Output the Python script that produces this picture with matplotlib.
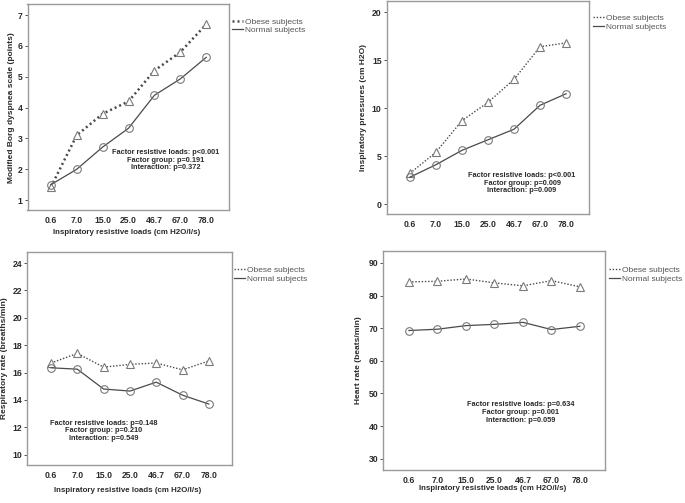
import numpy as np
import matplotlib.pyplot as plt
from matplotlib.lines import Line2D

plt.rcParams['font.family'] = ['Liberation Sans', 'DejaVu Sans']

loads = ['0.6', '7.0', '15.0', '25.0', '46.7', '67.0', '78.0']

# dyspnea (Borg)
borg_obese = [1.42, 3.1, 3.8, 4.2, 5.2, 5.8, 6.7]
borg_normal = [1.5, 2.0, 2.72, 3.33, 4.4, 4.93, 5.63]

# inspiratory pressures
pi_obese = [3.2, 5.4, 8.7, 10.6, 13.0, 16.4, 16.8]
pi_normal = [2.8, 4.1, 5.6, 6.7, 7.8, 10.3, 11.5]

# respiratory rate
rr_obese = [16.7, 17.4, 16.4, 16.6, 16.7, 16.2, 16.85]
rr_normal = [16.35, 16.25, 14.8, 14.65, 15.3, 14.35, 13.7]

# heart rate
hr_obese = [84.2, 84.4, 85.1, 83.9, 83.0, 84.6, 82.7]
hr_normal = [69.3, 69.7, 70.8, 71.2, 71.8, 69.6, 70.6]

W, H = 685, 503
frame_col = '#9a9a9a'
line_col = '#4a4a4a'
mark_col = '#7a7a7a'
text_col = '#2a2a2a'


def px(x, y):
    # pixel position -> figure fraction
    return x / W, 1 - y / H


def panel(fig, box, obese, normal, ylim, yticks, ylabel, ylab_x, stats, stats_xy,
          leg_xy, xlabel_y=None, dot_lw=1.0, dot_style=(0, (1, 1.3))):
    l, t, r, b = box
    ax = fig.add_axes([l / W, 1 - b / H, (r - l) / W, (b - t) / H])
    x = np.arange(len(loads))
    ax.plot(x, obese, color=line_col, lw=dot_lw, ls=dot_style, marker='^', ms=5.5,
            mfc='white', mec=mark_col, mew=0.8, zorder=3)
    ax.plot(x, normal, color=line_col, lw=0.9, ls='-', marker='o', ms=5.5,
            mfc='none', mec=mark_col, mew=0.8, zorder=3)
    ax.set_xlim(-0.9, 6.88)
    ax.set_ylim(*ylim)
    ax.set_yticks(yticks)
    ax.set_xticks(x)
    ax.set_xticklabels(loads)
    ax.tick_params(axis='y', length=2.5, width=0.7, color='#555555', pad=1,
                   labelsize=6.2, labelcolor=text_col)
    ax.tick_params(axis='x', length=0, pad=4.5, labelsize=6.2, labelcolor=text_col)
    for lab in ax.get_xticklabels() + ax.get_yticklabels():
        lab.set_fontweight('bold')
    for s in ax.spines.values():
        s.set_color(frame_col)
        s.set_linewidth(1.0)

    fig.text(*px(ylab_x, (t + b) / 2), ylabel, rotation=90, ha='center', va='center',
             fontsize=6, fontweight='bold', color=text_col)
    if xlabel_y is not None:
        fig.text(*px((l + r) / 2 - 2, xlabel_y), 'Inspiratory resistive loads (cm H2O/l/s)',
                 ha='center', va='center', fontsize=5.7, fontweight='bold', color=text_col)

    sx, sy = stats_xy
    for i, s in enumerate(stats):
        fig.text(*px(sx, sy + i * 7.6), s, ha='center', va='center', fontsize=5.3,
                 fontweight='bold', color=text_col)

    handles = [Line2D([], [], color=line_col, lw=dot_lw, ls=dot_style),
               Line2D([], [], color=line_col, lw=0.9, ls='-')]
    lx, ly = leg_xy
    fig.legend(handles, ['Obese subjects', 'Normal subjects'], loc='upper left',
               bbox_to_anchor=px(lx, ly), frameon=False, fontsize=6,
               handlelength=1.3, handletextpad=0.25, labelspacing=0.05,
               borderpad=0, borderaxespad=0, labelcolor='#555555')
    return ax


fig = plt.figure(figsize=(W / 100, H / 100), dpi=100)

panel(fig, (27.5, 4.3, 229, 210), borg_obese, borg_normal, (0.68, 7.35), range(1, 8),
      'Modified Borg dyspnea scale (points)', 11.5,
      ['Factor resistive loads: p<0.001', 'Factor group: p=0.191', 'Interaction: p=0.372'],
      (166, 152.7), (232, 18), xlabel_y=232, dot_lw=1.8, dot_style=(0, (0.8, 1.2)))

panel(fig, (386.5, 1, 589, 214), pi_obese, pi_normal, (-1.04, 21.17), range(0, 21, 5),
      'Inspiratory pressures (cm H2O)', 363.5,
      ['Factor resistive loads: p<0.001', 'Factor group: p=0.009', 'Interaction: p=0.009'],
      (522, 175.7), (593, 14.5))

panel(fig, (27.3, 251.7, 232, 465), rr_obese, rr_normal, (9.25, 24.83), range(10, 25, 2),
      'Respiratory rate (breaths/min)', 5,
      ['Factor resistive loads: p=0.148', 'Factor group: p=0.210', 'Interaction: p=0.549'],
      (103.3, 423.3), (234, 266.5), xlabel_y=490)

panel(fig, (383.3, 250.7, 605, 470), hr_obese, hr_normal, (26.54, 93.77), range(30, 91, 10),
      'Heart rate (beats/min)', 358,
      ['Factor resistive loads: p=0.634', 'Factor group: p=0.001', 'Interaction: p=0.059'],
      (520.3, 405), (609, 266.5), xlabel_y=489)

fig.savefig('out.png', dpi=100)
